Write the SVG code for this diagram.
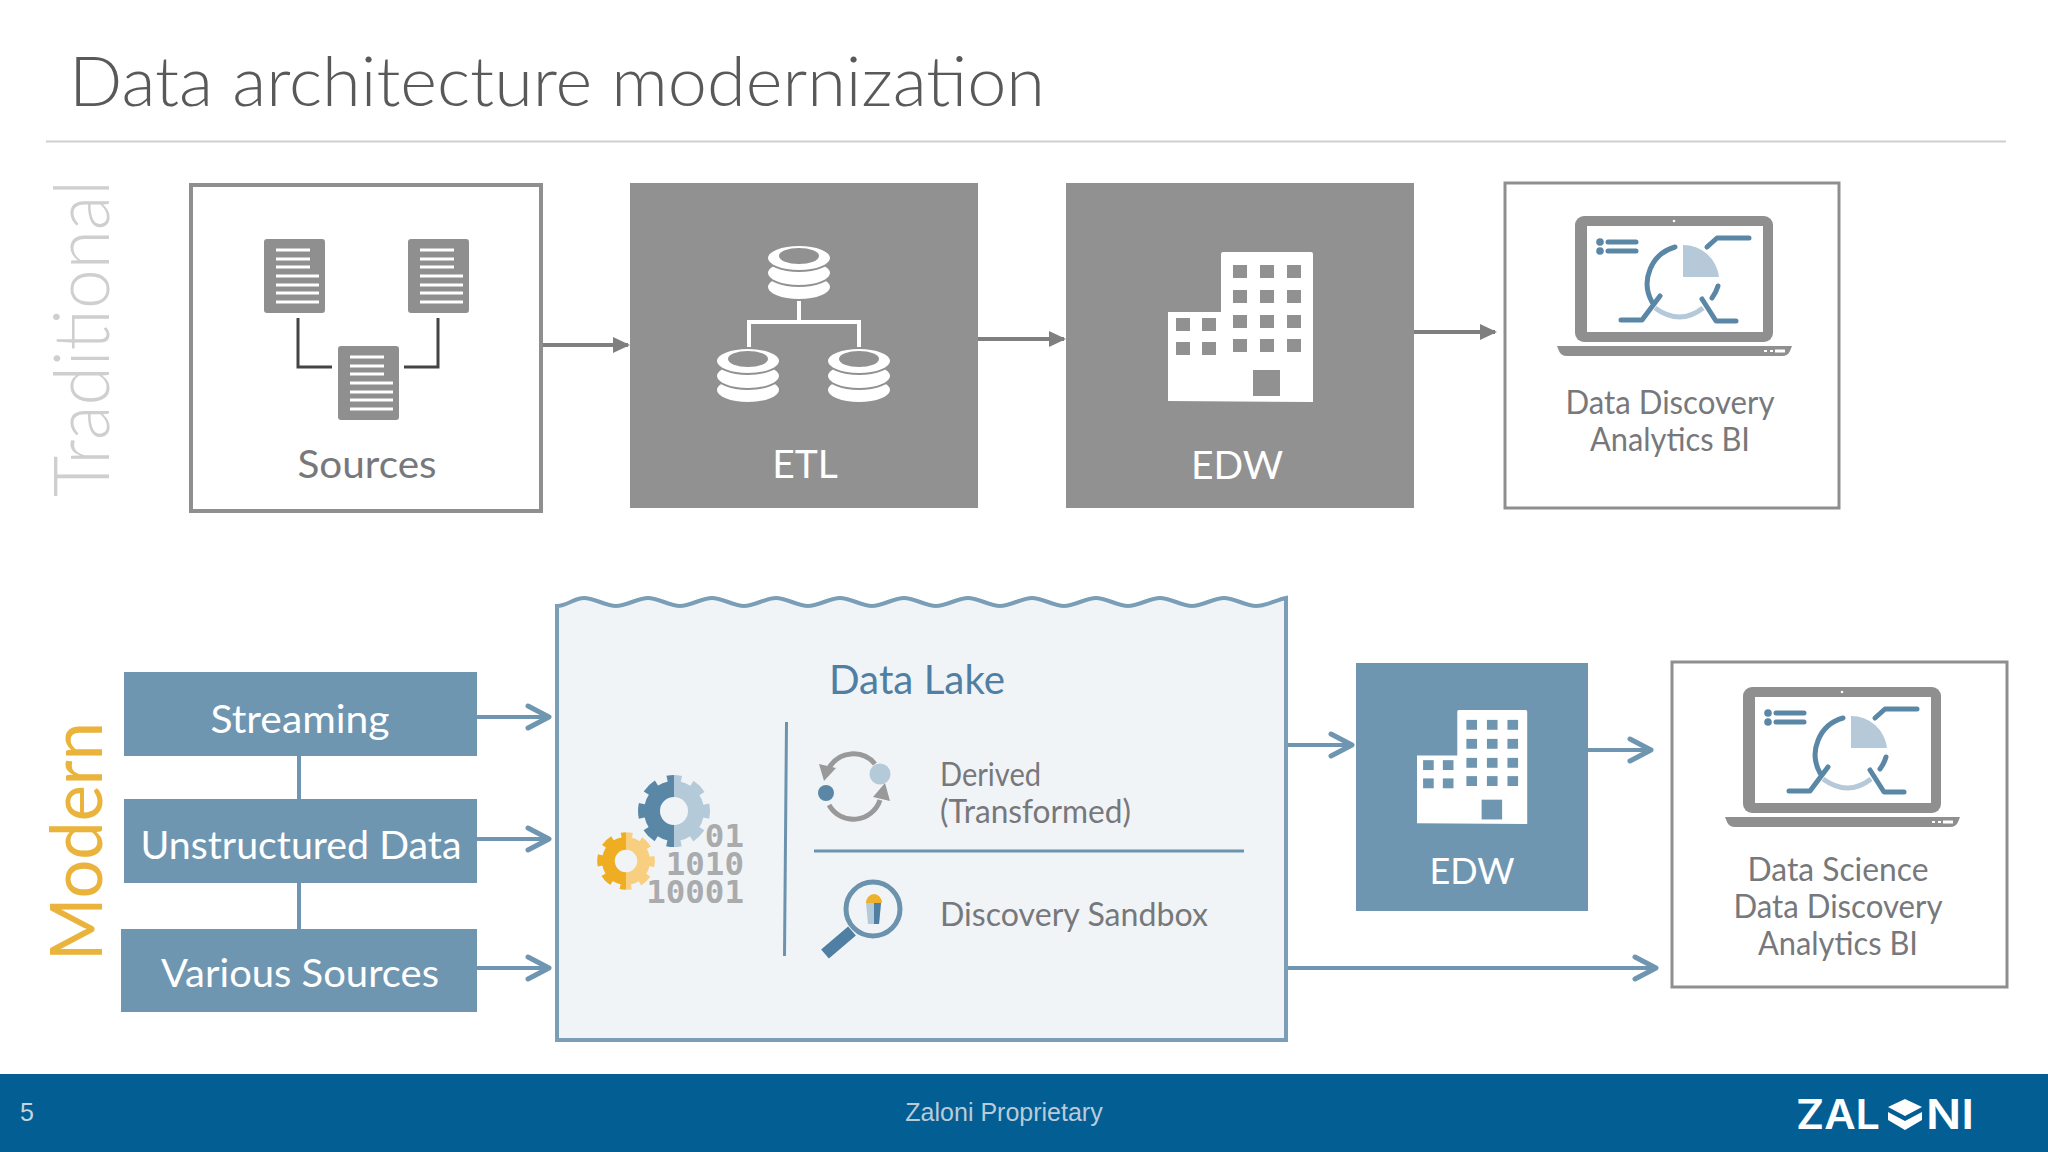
<svg xmlns="http://www.w3.org/2000/svg" xmlns:xlink="http://www.w3.org/1999/xlink" width="2048" height="1152" viewBox="0 0 2048 1152">
<style>
text{font-family:"Lato","Liberation Sans",sans-serif}
.g{fill:#77787b;font-size:32px}
.c{text-anchor:middle}
.w{fill:#fff;font-size:39px}
.box{fill:#fff;stroke:#8f8f8f}
.trad{stroke:#7f7f7f;stroke-width:4;fill:none;marker-end:url(#tri)}
.mod{stroke:#6f96b1;stroke-width:4;fill:none;marker-end:url(#chev)}
.link{stroke:#6f96b1;stroke-width:4;fill:none}
.doc-l{stroke:#fff;stroke-width:3}
.blue{stroke:#5b87a6;fill:none;stroke-width:5;stroke-linecap:round;stroke-linejoin:round}
</style>
<defs>
<marker id="tri" markerUnits="userSpaceOnUse" orient="auto" overflow="visible" markerWidth="20" markerHeight="20"><path d="M-15,-8L2,0L-15,8Z" fill="#7f7f7f"/></marker>
<marker id="chev" markerUnits="userSpaceOnUse" orient="auto" overflow="visible" markerWidth="30" markerHeight="30"><path d="M-22,-11L-1,0L-22,11" fill="none" stroke="#6f96b1" stroke-width="5" stroke-linecap="round" stroke-linejoin="round"/></marker>
<g id="doc"><rect width="61" height="74" rx="3" fill="#8f8f8f"/><path class="doc-l" d="M12,11H46M12,20H46M12,28H46M12,37H55M12,46H55M12,54H55M12,63H55"/></g>
<g id="db"><ellipse cy="42" rx="32" ry="13" fill="#fff" stroke="#919191" stroke-width="2"/><ellipse cy="28" rx="32" ry="13" fill="#fff" stroke="#919191" stroke-width="2"/><ellipse cy="13" rx="32" ry="13" fill="#fff" stroke="#919191" stroke-width="2"/><ellipse cy="11" rx="20" ry="8" fill="#919191"/></g>
<g id="building"><path d="M0,60H53V2Q53,0 55,0H143Q145,0 145,2V150L0,149Z" fill="#fff"/><g fill="currentColor"><rect x="65" y="13" width="14" height="13"/><rect x="92" y="13" width="14" height="13"/><rect x="119" y="13" width="14" height="13"/><rect x="65" y="38" width="14" height="13"/><rect x="92" y="38" width="14" height="13"/><rect x="119" y="38" width="14" height="13"/><rect x="65" y="63" width="14" height="13"/><rect x="92" y="63" width="14" height="13"/><rect x="119" y="63" width="14" height="13"/><rect x="65" y="87" width="14" height="13"/><rect x="92" y="87" width="14" height="13"/><rect x="119" y="87" width="14" height="13"/><rect x="8" y="66" width="14" height="13"/><rect x="34" y="66" width="14" height="13"/><rect x="8" y="90" width="14" height="13"/><rect x="34" y="90" width="14" height="13"/><rect x="85" y="118" width="27" height="26"/></g></g>
<g id="laptop"><rect x="1575" y="216" width="198" height="126" rx="9" fill="#8f8f8f"/><rect x="1587" y="226" width="176" height="106" fill="#fff"/><path d="M1557,346H1792L1790,351Q1788,356 1782,356H1567Q1561,356 1559,351Z" fill="#8f8f8f"/><circle cx="1674" cy="221" r="1.3" fill="#fff"/><path d="M1764,351H1767M1770,351H1773" stroke="#fff" stroke-width="2"/><path d="M1775,351H1785" stroke="#fff" stroke-width="3"/>
<circle cx="1600" cy="242" r="3.8" fill="#5b87a6"/><circle cx="1600" cy="251" r="3.8" fill="#5b87a6"/><path class="blue" stroke-width="4" d="M1608,242H1636M1608,251H1636"/><path class="blue" d="M1707,247L1717,238H1749"/><path d="M1683,245A36,36 0 0 1 1719,277H1683Z" fill="#b5c9d8"/><path class="blue" d="M1675,247A38,38 0 0 0 1652,302"/><path class="blue" d="M1718,286A38,38 0 0 1 1712,298"/><path d="M1655,308Q1680,326 1703,308" fill="none" stroke="#b5c9d8" stroke-width="5"/><path class="blue" d="M1660,296L1642,320H1621M1702,299L1716,321H1736"/></g>
<g id="gear" fill="none" stroke="currentColor"><circle r="22" stroke-width="16"/><circle r="32" stroke-width="8" stroke-dasharray="14 11.13" stroke-dashoffset="7"/></g>
<clipPath id="lh"><rect x="-40" y="-40" width="40" height="80"/></clipPath>
<clipPath id="rh"><rect x="0" y="-40" width="40" height="80"/></clipPath>
</defs>
<rect width="2048" height="1152" fill="#fff"/>
<text x="69" y="106" font-size="68" font-weight="300" fill="#58595b" textLength="976" lengthAdjust="spacingAndGlyphs">Data architecture modernization</text>
<line x1="46" y1="141.500" x2="2006" y2="141.500" stroke="#cfcfcf" stroke-width="2"/>
<text transform="translate(109,497) rotate(-90)" font-size="76" font-weight="300" fill="#cfcfcf" textLength="317" lengthAdjust="spacingAndGlyphs">Traditional</text>
<text transform="translate(102,961) rotate(-90)" font-size="72" fill="#e9b33c" textLength="239" lengthAdjust="spacingAndGlyphs">Modern</text>

<g id="connectors">
<path class="trad" d="M541,345H628"/><path class="trad" d="M978,339H1064"/><path class="trad" d="M1414,332H1495"/>
<path class="link" d="M299,756V799M299,883V929"/>
<path class="mod" d="M477,717H550"/><path class="mod" d="M477,839H550"/><path class="mod" d="M477,968H550"/>
<path class="mod" d="M1286,745H1353"/><path class="mod" d="M1588,750H1652"/><path class="mod" d="M1286,968H1657"/>
</g>

<g id="sources"><rect class="box" x="191" y="185" width="350" height="326" stroke-width="4"/>
<use href="#doc" x="264" y="239"/><use href="#doc" x="408" y="239"/><use href="#doc" x="338" y="346"/>
<path d="M298,318V367H332M438,318V367H404" fill="none" stroke="#444" stroke-width="3"/>
<text class="c" x="367" y="478" font-size="39" fill="#77787b" textLength="139" lengthAdjust="spacingAndGlyphs">Sources</text></g>

<g id="etl"><rect x="630" y="183" width="348" height="325" fill="#919191"/>
<path d="M799,298V322M749,347V322H859V347" fill="none" stroke="#fff" stroke-width="4"/>
<use href="#db" x="799" y="245"/><use href="#db" x="748" y="348"/><use href="#db" x="859" y="348"/>
<text class="c w" x="805" y="478">ETL</text></g>

<g id="edw"><rect x="1066" y="183" width="348" height="325" fill="#919191"/>
<use href="#building" x="1168" y="252" color="#919191"/>
<text class="c w" x="1237" y="479">EDW</text></g>

<g id="analytics"><rect class="box" x="1505" y="183" width="334" height="325" stroke-width="3"/>
<use href="#laptop"/>
<text class="c g" x="1670" y="414" textLength="209" lengthAdjust="spacingAndGlyphs">Data Discovery</text>
<text class="c g" x="1670" y="451" textLength="160" lengthAdjust="spacingAndGlyphs">Analytics BI</text></g>

<g id="streaming"><rect x="124" y="672" width="353" height="84" fill="#6f96b1"/><text class="c w" x="300" y="733" textLength="179" lengthAdjust="spacingAndGlyphs">Streaming</text></g>
<g id="unstructured"><rect x="124" y="799" width="353" height="84" fill="#6f96b1"/><text class="c w" x="301" y="859" textLength="321" lengthAdjust="spacingAndGlyphs">Unstructured Data</text></g>
<g id="various"><rect x="121" y="929" width="356" height="83" fill="#6f96b1"/><text class="c w" x="300" y="987" textLength="278" lengthAdjust="spacingAndGlyphs">Various Sources</text></g>

<g id="data-lake"><path d="M557,1040V606C567,606 574,598 584,598S606,606 616,606S638,598 648,598S670,606 680,606S702,598 712,598S734,606 744,606S766,598 776,598S798,606 808,606S830,598 840,598S862,606 872,606S894,598 904,598S926,606 936,606S958,598 968,598S990,606 1000,606S1022,598 1032,598S1054,606 1064,606S1086,598 1096,598S1118,606 1128,606S1150,598 1160,598S1182,606 1192,606S1214,598 1224,598S1246,606 1256,606C1266,606 1276,600 1286,598V1040Z" fill="#f1f4f7" stroke="#7b9eb8" stroke-width="4"/>
<text x="829" y="694" font-size="40" fill="#4f7fa3" textLength="176" lengthAdjust="spacingAndGlyphs">Data Lake</text>
<path d="M786.500,722L784.500,956M814,851H1244" stroke="#6b93ae" stroke-width="3" fill="none"/>
<g transform="translate(674,811)"><use href="#gear" color="#5b87a6" clip-path="url(#lh)"/><use href="#gear" color="#b5cad8" clip-path="url(#rh)"/></g>
<g transform="translate(626,861) scale(.8)"><use href="#gear" color="#efae22" clip-path="url(#lh)"/><use href="#gear" color="#f8cf80" clip-path="url(#rh)"/></g>
<g font-size="32.500" font-weight="700" fill="#a9abad" text-anchor="end"><text x="744" y="847" style="font-family:'DejaVu Sans Mono',monospace">01</text><text x="744" y="875" style="font-family:'DejaVu Sans Mono',monospace">1010</text><text x="744" y="903" style="font-family:'DejaVu Sans Mono',monospace">10001</text></g>
<path d="M875,764A28,28 0 0 0 829,768M829,805A28,28 0 0 0 880,800" fill="none" stroke="#999" stroke-width="5"/>
<path d="M819,764L836,768L824,781ZM890,801L873,797L885,783Z" fill="#999"/>
<circle cx="880" cy="774" r="10.500" fill="#b5cad8"/><circle cx="826" cy="793" r="8" fill="#5b87a6"/>
<text class="g" x="940" y="786" textLength="101" lengthAdjust="spacingAndGlyphs">Derived</text>
<text class="g" x="940" y="823" textLength="191" lengthAdjust="spacingAndGlyphs">(Transformed)</text>
<circle cx="873" cy="909" r="27" fill="none" stroke="#6b93ae" stroke-width="5"/>
<path d="M852,931L825,954" stroke="#4f7fa3" stroke-width="12"/>
<path d="M866,903H881L879,924H868Z" fill="#b5cad8"/><path d="M874,903H881L879,924H874Z" fill="#4f7fa3"/><path d="M866,903A8,9 0 0 1 882,903Z" fill="#efb02a"/>
<text class="g" x="940" y="926" textLength="268" lengthAdjust="spacingAndGlyphs">Discovery Sandbox</text></g>

<g id="edw-modern"><rect x="1356" y="663" width="232" height="248" fill="#6f96b1"/>
<use href="#building" transform="translate(1417,710) scale(.76)" color="#6f96b1"/>
<text class="c" x="1472" y="884" font-size="36" fill="#fff">EDW</text></g>

<g id="consumers"><rect class="box" x="1672" y="662" width="335" height="325" stroke-width="3"/>
<use href="#laptop" transform="translate(168,471)"/>
<text class="c g" x="1838" y="881" textLength="181" lengthAdjust="spacingAndGlyphs">Data Science</text>
<text class="c g" x="1838" y="918" textLength="209" lengthAdjust="spacingAndGlyphs">Data Discovery</text>
<text class="c g" x="1838" y="955" textLength="160" lengthAdjust="spacingAndGlyphs">Analytics BI</text></g>

<g id="footer"><rect y="1074" width="2048" height="78" fill="#035e94"/>
<text x="20" y="1121" font-size="25" fill="#c5d5e0" style="font-family:'Liberation Sans',sans-serif">5</text>
<text class="c" x="1004" y="1121" font-size="25" fill="#b9cbd8" style="font-family:'Liberation Sans',sans-serif">Zaloni Proprietary</text>
<g fill="#fff" font-size="41" font-weight="600" style="font-family:Inter,sans-serif"><text x="1796" y="1129" style="font-family:Inter,sans-serif" textLength="84" lengthAdjust="spacingAndGlyphs">ZAL</text><text x="1926" y="1129" style="font-family:Inter,sans-serif" textLength="48" lengthAdjust="spacingAndGlyphs">NI</text></g>
<path d="M1905,1099L1922,1107L1905,1116L1888,1107ZM1888,1112L1905,1121L1922,1112V1120L1905,1130L1888,1120Z" fill="#fff"/></g>
</svg>
